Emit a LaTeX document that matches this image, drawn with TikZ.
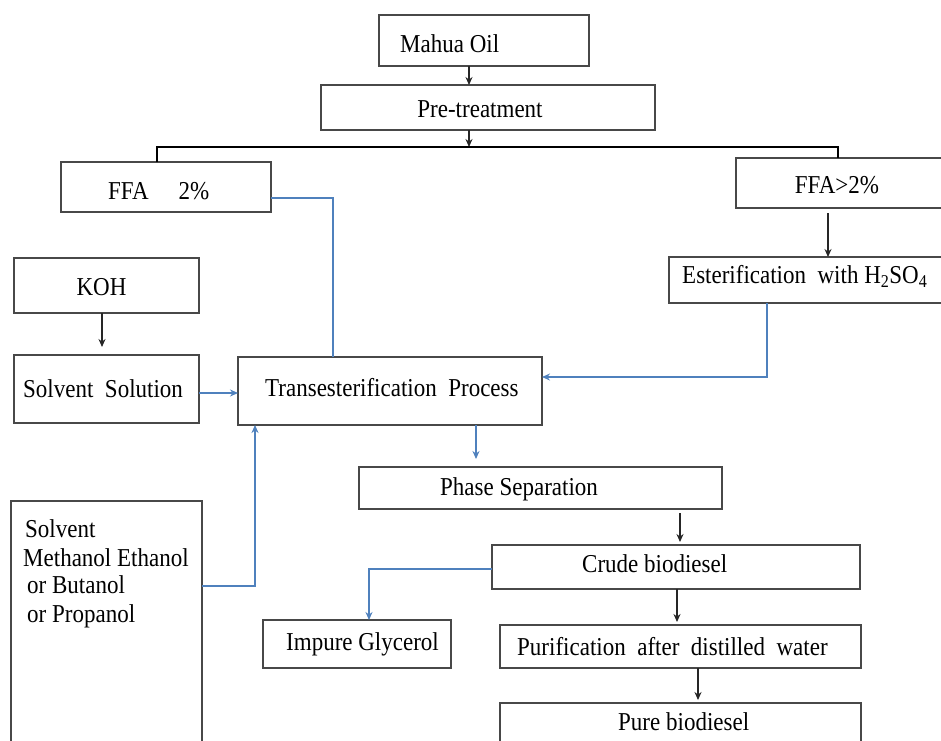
\documentclass[tikz,border=0pt]{standalone}
\usepackage{fontspec}
\setmainfont{Liberation Serif}
\usetikzlibrary{arrows.meta}
\definecolor{lblue}{HTML}{4F81BD}
\definecolor{bord}{HTML}{484848}
\newcommand\tx[1]{\scalebox{1}[1.12]{#1}}
\begin{document}
\begin{tikzpicture}[x=1pt,y=-1pt,
  box/.style={draw=bord,line width=1.4pt,inner sep=0pt,outer sep=0pt},
  lbl/.style={font=\fontsize{23}{28}\selectfont,inner sep=0pt,anchor=base west},
  clbl/.style={lbl,anchor=base},
  blk/.style={draw=black!85,line width=1.3pt,-{Stealth[length=8pt,width=7pt]}},
  bln/.style={draw=black,line width=1.3pt},
  blu/.style={draw=lblue,line width=1.3pt},
  bla/.style={blu,-{Stealth[length=8pt,width=7pt]}}]
\useasboundingbox (0,0) rectangle (941,740);
\clip (0,0) rectangle (941,740);
% boxes
\node[box,minimum width=210pt,minimum height=51pt] (mahua) at (484,40.5) {};
\node[box,minimum width=334pt,minimum height=45pt] (pre) at (488,107.5) {};
\node[box,minimum width=210pt,minimum height=50pt] (ffa1) at (166,187) {};
\node[box,minimum width=209pt,minimum height=50pt] (ffa2) at (840.5,183) {};
\node[box,minimum width=276pt,minimum height=46pt] (ester) at (807,280) {};
\node[box,minimum width=185pt,minimum height=55pt] (koh) at (106.5,285.5) {};
\node[box,minimum width=185pt,minimum height=68pt] (solv) at (106.5,389) {};
\node[box,minimum width=304pt,minimum height=68pt] (trans) at (390,391) {};
\node[box,minimum width=191pt,minimum height=259pt] (solvbox) at (106.5,630.5) {};
\node[box,minimum width=363pt,minimum height=42pt] (phase) at (540.5,488) {};
\node[box,minimum width=368pt,minimum height=44pt] (crude) at (676,567) {};
\node[box,minimum width=188pt,minimum height=48pt] (glyc) at (357,644) {};
\node[box,minimum width=361pt,minimum height=43pt] (purif) at (680.5,646.5) {};
\node[box,minimum width=361pt,minimum height=57pt] (pure) at (680.5,731.5) {};
% texts
\node[lbl] (tmahua) at (400,52) {\tx{Mahua Oil}};
\node[clbl] (tpre) at (480,117) {\tx{Pre-treatment}};
\node[lbl] (tffa1) at (108,199) {\tx{FFA\hspace{30pt}2\%}};
\node[clbl] (tffa2) at (837,193) {\tx{FFA>2\%}};
\node[lbl] (tester) at (682,283) {\tx{Esterification\ \ with H\textsubscript{2}SO\textsubscript{4}}};
\node[clbl] (tkoh) at (101.5,295) {\tx{KOH}};
\node[lbl] (tsolv) at (23,397) {\tx{Solvent\ \ Solution}};
\node[lbl] (ttrans) at (265,396) {\tx{Transesterification\ \ Process}};
\node[lbl] (tphase) at (440,495) {\tx{Phase Separation}};
\node[lbl] (tcrude) at (582,572) {\tx{Crude biodiesel}};
\node[lbl] (tglyc) at (286,650) {\tx{Impure Glycerol}};
\node[lbl] (tpurif) at (517,655) {\tx{Purification\ \ after\ \ distilled\ \ water}};
\node[lbl] (tpure) at (618,730) {\tx{Pure biodiesel}};
\node[lbl] (ts1) at (25,537) {\tx{Solvent}};
\node[lbl] (ts2) at (23,566) {\tx{Methanol Ethanol}};
\node[lbl] (ts3) at (27,593) {\tx{or Butanol}};
\node[lbl] (ts4) at (27,622) {\tx{or Propanol}};
% coordinates
\coordinate (split) at (469,147);
\coordinate (jl) at (157,147);
\coordinate (jr) at (838,147);
\coordinate (s1) at ([yshift=-4pt]solv.east);
% connectors
\draw[blk] ([xshift=-15pt]mahua.south) -- ([xshift=-19pt]pre.north);
\draw[blk] ([xshift=-19pt]pre.south) -- (split);
\draw[bln] ([xshift=-9pt]ffa1.north) -- (jl) -- (jr) -- ([xshift=-2.5pt]ffa2.north);
\draw[blk] ([xshift=-12.5pt,yshift=-5pt]ffa2.south) -- ([xshift=21pt]ester.north);
\draw[bla] ([xshift=-40pt]ester.south) |- ([yshift=14pt]trans.east);
\draw[blu] ([yshift=-11pt]ffa1.east) -| ([xshift=-57pt]trans.north);
\draw[blk] ([xshift=-4.5pt]koh.south) -- ([xshift=-4.5pt,yshift=8pt]solv.north);
\draw[bla] (s1) -- (s1 -| trans.west);
\draw[bla] ([yshift=44.5pt]solvbox.east) -| ([xshift=-135pt]trans.south);
\draw[bla] ([xshift=86pt]trans.south) -- ([xshift=-64.5pt,yshift=8pt]phase.north);
\draw[blk] ([xshift=139.5pt,yshift=-4pt]phase.south) -- ([xshift=4pt,yshift=3pt]crude.north);
\draw[bla] ([yshift=-2pt]crude.west) -| ([xshift=12pt]glyc.north);
\draw[blk] ([xshift=1pt]crude.south) -- ([xshift=-3.5pt,yshift=3pt]purif.north);
\draw[blk] ([xshift=17.5pt]purif.south) -- ([xshift=17.5pt,yshift=3pt]pure.north);
\end{tikzpicture}
\end{document}
